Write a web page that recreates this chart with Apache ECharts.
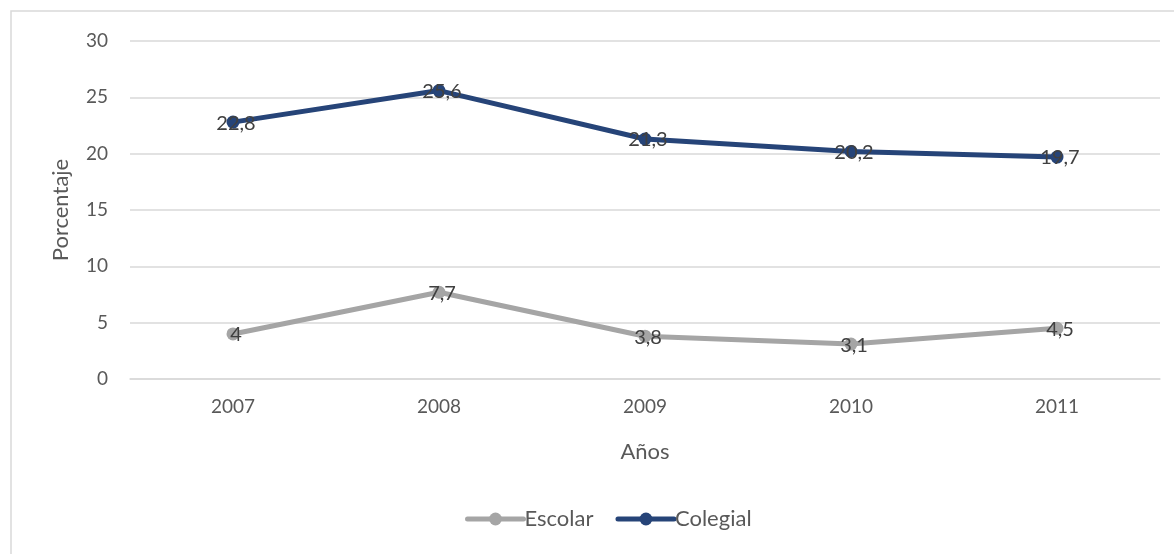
<!DOCTYPE html>
<html>
<head>
<meta charset="utf-8">
<script src="https://cdn.jsdelivr.net/npm/echarts@6/dist/echarts.min.js"></script>
<style>
  html, body { margin: 0; padding: 0; background: #fff; }
  #chart { width: 1174px; height: 554px; }
</style>
</head>
<body>
<div id="chart"></div>
<script>
// Years on the category axis
const years = ['2007', '2008', '2009', '2010', '2011'];
// Percentages per level
const escolar = [4, 7.7, 3.8, 3.1, 4.5];
const colegial = [22.8, 25.6, 21.3, 20.2, 19.7];

const FONT = 'Lato';
const TEXT = '#595959';

const commaLabel = p => String(p.value).replace('.', ',');

const chart = echarts.init(document.getElementById('chart'), null, { renderer: 'canvas' });

function lineSeries(name, data, color) {
  return {
    name: name,
    type: 'line',
    data: data,
    symbol: 'circle',
    symbolSize: 13,
    lineStyle: { width: 5, color: color, cap: 'round' },
    itemStyle: { color: color },
    label: {
      show: true,
      position: 'inside',
      offset: [3, 1],
      formatter: commaLabel,
      color: '#404040',
      fontFamily: FONT,
      fontSize: 20
    },
    emphasis: { disabled: true },
    animation: false
  };
}

chart.setOption({
  backgroundColor: '#fff',
  animation: false,
  graphic: [{
    type: 'rect',
    shape: { x: 11, y: 11, width: 1300, height: 700 },
    style: { fill: 'none', stroke: '#d9d9d9', lineWidth: 1.5 },
    silent: true,
    z: -1
  }],
  grid: { left: 130, right: 14, top: 41, bottom: 175 },
  legend: {
    bottom: 19,
    left: 460,
    itemWidth: 56,
    itemHeight: 16,
    itemGap: 22,
    lineStyle: { width: 5, cap: 'round' },
    textStyle: { color: TEXT, fontFamily: FONT, fontSize: 22, padding: [0, 0, 0, -4] },
    data: ['Escolar', 'Colegial']
  },
  xAxis: {
    type: 'category',
    data: years,
    name: 'Años',
    nameLocation: 'middle',
    nameGap: 62,
    nameTextStyle: { color: TEXT, fontFamily: FONT, fontSize: 22 },
    axisLine: { show: true, lineStyle: { color: '#d9d9d9', width: 1.5 } },
    axisTick: { show: false },
    axisLabel: { color: TEXT, fontFamily: FONT, fontSize: 19, margin: 18 }
  },
  yAxis: {
    type: 'value',
    min: 0,
    max: 30,
    interval: 5,
    name: 'Porcentaje',
    nameLocation: 'middle',
    nameGap: 58,
    nameTextStyle: { color: TEXT, fontFamily: FONT, fontSize: 22 },
    axisLine: { show: false },
    axisTick: { show: false },
    splitLine: { lineStyle: { color: '#d9d9d9', width: 1.5 } },
    axisLabel: { color: TEXT, fontFamily: FONT, fontSize: 19, margin: 22 }
  },
  series: [
    lineSeries('Escolar', escolar, '#a5a5a5'),
    lineSeries('Colegial', colegial, '#264478')
  ]
});
</script>
</body>
</html>
